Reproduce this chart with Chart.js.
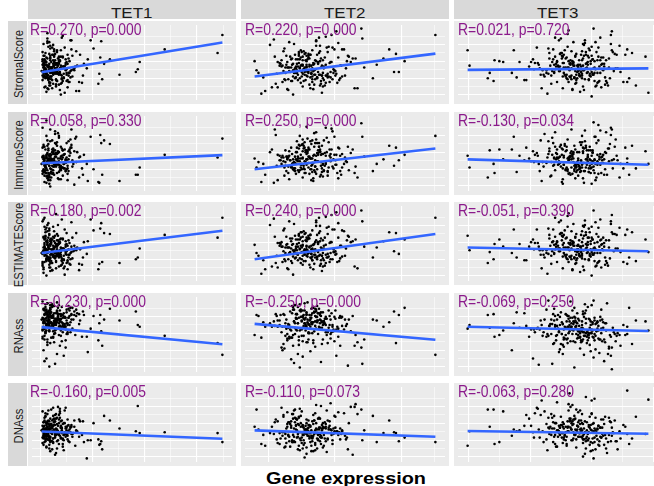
<!DOCTYPE html>
<html><head><meta charset="utf-8">
<script src="https://cdn.jsdelivr.net/npm/chart.js@4.4.1/dist/chart.umd.min.js"></script>
<style>
html,body{margin:0;padding:0;background:#fff;overflow:hidden;width:654px;height:486px;}
#wrap{position:relative;width:654px;height:486px;overflow:hidden;font-family:"Liberation Sans",Arial,sans-serif;}
.panel{position:absolute;width:208px;height:83px;background:#EBEBEB;}
.panel canvas{display:block;}
.cstrip{position:absolute;top:0;height:19px;width:208px;background:#D9D9D9;color:#1A1A1A;font-size:14.5px;text-align:center;line-height:19px;}
.cstrip span{position:relative;top:4px;display:inline-block;transform:scaleX(1.17);}
.rstrip{position:absolute;left:8px;width:19px;height:83px;background:#D9D9D9;}
.rstrip span{position:absolute;left:50%;top:52%;transform:translate(-50%,-50%) rotate(-90deg) scaleY(1.16);white-space:nowrap;font-size:11.2px;color:#1A1A1A;}
.rlab{position:absolute;color:#8B1A8B;font-size:16px;line-height:16px;white-space:nowrap;transform-origin:0 0;transform:scaleX(0.87);}
#xtitle{position:absolute;left:346px;top:471px;font-weight:bold;font-size:16px;line-height:16px;color:#000;white-space:nowrap;transform:translateX(-50%) scaleX(1.24);}
</style></head>
<body><div id="wrap"></div>
<script>
const genes = ["TET1","TET2","TET3"];
const scores = ["StromalScore","ImmuneScore","ESTIMATEScore","RNAss","DNAss"];
const rVals = [[0.270,0.220,0.021],[0.058,0.250,-0.130],[0.180,0.240,-0.051],[-0.230,-0.250,-0.069],[-0.160,-0.110,-0.063]];
const pVals = [[0.000,0.000,0.720],[0.330,0.000,0.034],[0.002,0.000,0.390],[0.000,0.000,0.250],[0.005,0.073,0.280]];
// fitted line values at the smallest and largest expression
const fitStart = [[3.07,2.6,3.33],[3.07,2.4,3.5],[3.1,2.4,3.7],[4.97,5.33,5.0],[3.37,3.5,3.43]];
const fitEnd   = [[6.37,5.13,3.5],[3.97,4.7,2.9],[5.57,5.2,3.3],[3.07,3.57,4.53],[2.57,2.8,3.13]];
// axis extents and tick positions (expression / score units)
const xMin = 0, xMax = 20.8, yMin = 0, yMax = 8.3;
const xTicksTET1 = [0.9,3.61,6.32,9.03,11.74,14.45,17.16,19.87];
const xTicksTET2 = [2.44,5.9,9.36,12.82,16.28,19.74];
const xTicksTET3 = [1.1,4.3,7.5,10.7,13.9,17.1,20.3];
const yTicks = [0.56,1.49,2.42,3.35,4.28,5.21,6.14,7.07];

const tet1Expr = [19.8,19.3,13.8,11.2,11.0,10.8,9.1,8.1,7.5,7.2,7.1,7.0,7.3,6.9,6.1,5.7,5.4,5.2,5.0,4.9,
1.0,1.3,1.5,1.2,1.8,2.1,1.4,1.6,2.4,1.9,1.2,1.7,2.2,2.8,1.3,1.5,2.0,2.6,1.1,1.8,
2.3,1.4,1.6,3.1,1.2,2.5,1.9,1.3,2.1,1.7,1.5,2.9,1.2,1.8,2.2,1.4,3.4,1.6,2.0,1.1,
2.7,1.3,1.9,2.4,1.5,1.2,3.0,1.7,2.3,1.4,1.8,2.6,1.1,2.0,1.6,3.6,1.3,2.2,1.5,1.9,
1.2,2.8,1.7,1.4,2.1,3.3,1.6,1.3,2.5,1.8,1.1,2.0,1.5,3.8,1.9,1.2,2.3,1.7,2.7,1.4,
1.6,2.1,1.3,4.1,1.8,1.5,2.4,1.2,2.0,3.2,1.7,1.4,2.9,1.9,1.1,2.2,1.6,1.3,4.4,1.8,
2.6,1.5,1.2,2.0,3.5,1.7,1.4,2.3,1.9,1.6,1.3,2.8,1.1,2.1,4.0,1.5,1.8,2.5,1.2,3.7,
1.7,1.4,2.2,1.6,4.6,1.9,1.3,2.4,3.0,1.5,
2.6,3.3,1.9,2.9,3.7,2.2,3.0,4.2,2.5,3.5,1.8,2.7,3.9,2.3,3.1,4.5,2.0,2.8,3.4,1.6,
3.6,2.4,3.2,4.0,2.1,2.9,3.8,1.7,2.6,3.3,4.3,2.2,3.0,3.6,1.9,2.5,4.7,3.1,2.7,3.5,
2.0,3.9,2.4,3.2,1.5,2.8,3.7,4.1,2.3,3.0,2.6,3.4,1.8,4.4,2.9,3.1,2.1,3.8,2.5,3.3,
5.3,2.7,3.6,2.2,4.0,1.6,3.0,2.8,3.5,2.4,3.9,2.0,3.2,4.6,2.6,3.7,1.9,2.9,3.4,5.8,
2.3,3.1,4.2,2.7,1.7,3.6,2.5,3.0,6.4,2.2,3.8,2.8,3.3,1.8,4.1,2.6,3.5,2.4,4.9,3.2];
const tet2Expr = [19.8,16.6,16.0,15.7,15.5,15.0,14.4,13.7,13.3,12.2,12.1,11.7,11.4,12.4,1.0,1.2,1.4,1.7,2.1,1.9,
6.2,7.5,4.8,8.9,5.6,7.0,3.9,6.6,9.4,5.1,7.8,6.0,4.4,8.2,6.9,10.3,5.4,7.3,3.2,6.4,
8.6,5.8,7.1,4.6,9.8,6.7,5.2,7.7,3.6,8.0,6.1,9.1,5.0,7.4,4.2,6.8,10.8,5.7,7.9,6.3,
4.9,8.4,3.0,7.2,5.5,9.6,6.5,4.0,8.1,7.6,5.3,6.0,11.2,4.5,7.0,8.7,5.9,3.4,6.6,9.0,
7.3,4.7,6.2,8.3,5.6,10.0,7.8,3.8,6.9,5.1,8.8,6.4,4.3,7.5,9.3,5.8,2.8,7.1,6.7,8.5,
4.1,5.4,10.6,6.3,7.9,5.0,9.7,6.1,3.3,7.4,8.0,5.7,6.8,4.6,11.5,7.2,5.2,8.6,6.5,3.7,
9.2,7.7,4.9,6.0,8.2,5.5,10.1,6.9,4.4,7.6,5.9,8.9,3.1,6.2,9.5,7.0,5.3,4.8,8.4,6.6,
7.3,10.4,5.6,2.6,8.1,6.4,4.2,9.9,7.8,5.1,
6.5,7.9,5.3,8.4,6.1,7.2,4.5,9.0,5.8,7.6,6.8,4.1,8.1,5.5,7.0,9.7,6.3,5.0,7.8,3.6,
8.6,6.0,7.3,4.8,9.3,6.6,5.7,8.0,4.3,7.1,6.4,10.5,5.2,7.7,6.9,3.9,8.3,5.9,7.4,6.2,
4.6,8.8,6.7,5.4,7.5,10.1,6.0,4.9,8.2,7.0,5.6,9.5,6.4,3.4,7.8,5.1,8.5,6.8,4.4,7.2,
9.1,5.8,6.5,8.0,4.0,7.4,6.1,11.0,5.3,7.9,6.6,4.7,8.7,5.9,7.1,9.9,6.3,5.0,8.4,6.9,
3.8,7.6,5.5,9.2,6.2,7.3,4.2,8.1,6.7,5.2,7.5,10.7,6.0,4.5,8.9,5.7,7.0,6.4,9.4,5.4];
const tet3Expr = [19.8,19.5,18.5,18.1,17.8,17.6,16.0,15.9,15.2,14.1,13.9,1.0,1.2,3.1,3.3,3.7,3.8,4.3,4.7,5.8,
12.4,10.8,13.6,9.5,14.2,11.7,15.3,12.9,8.6,13.1,11.2,14.7,10.1,12.6,16.0,9.0,13.8,11.9,7.4,12.2,
14.0,10.5,13.3,15.8,11.5,12.8,8.2,14.5,10.9,13.0,12.1,16.5,9.8,11.4,13.7,7.8,12.5,14.9,10.3,13.4,
11.8,6.9,12.7,15.1,9.3,14.3,11.1,13.9,10.6,12.0,17.2,8.8,13.2,11.6,14.8,10.0,12.3,15.6,9.6,13.5,
11.3,14.1,6.4,12.9,10.7,16.2,13.0,11.9,8.4,14.4,12.6,10.2,15.0,13.6,7.1,11.0,14.6,12.2,9.2,13.8,
16.8,11.7,10.4,12.8,14.0,8.0,13.1,11.5,15.4,9.9,12.4,14.3,10.8,5.6,13.3,11.2,16.4,12.0,9.4,14.9,
10.5,13.7,12.3,7.6,15.2,11.8,13.9,10.1,12.7,17.6,8.9,14.2,11.4,13.0,6.1,12.5,15.7,10.9,13.5,11.0,
14.5,9.7,12.1,16.1,10.3,13.4,8.5,14.8,12.9,11.6,
12.8,11.3,14.0,10.6,13.3,12.1,15.0,11.8,9.7,13.6,12.4,14.6,10.9,12.0,15.7,11.5,13.1,9.2,14.3,12.6,
11.0,13.8,12.3,16.3,10.4,13.0,11.7,14.8,9.9,12.9,13.5,11.2,15.3,12.5,10.1,14.1,11.9,13.4,8.7,12.2,
14.5,10.7,13.2,11.6,16.6,12.7,9.5,13.9,11.4,14.2,12.0,10.3,15.5,12.8,11.1,13.7,8.3,14.7,12.4,10.8,
13.0,15.9,11.8,12.6,10.0,14.4,13.3,11.5,9.8,12.1,14.9,11.3,13.6,10.5,12.9,16.9,11.9,13.1,10.2,14.0,
12.3,9.4,15.1,11.7,13.8,12.5,10.9,14.6,7.9,13.2,11.0,15.4,12.7,10.6,14.2,11.4,13.5,12.2,17.4,10.0];

const stromalTET1 = [7.2,5.2,5.6,4.2,3.4,3.1,2.8,4.5,4.0,6.5,4.7,2.9,2.3,1.8,6.6,3.5,4.0,1.9,5.0,1.0,
3.2,4.1,2.5,3.8,1.9,5.0,3.5,2.8,4.4,3.0,6.2,2.2,3.7,4.8,1.4,3.3,2.6,5.5,3.9,2.0,
4.2,3.1,7.4,2.7,3.6,1.7,4.6,3.4,5.8,2.4,3.9,1.1,4.0,3.2,2.9,5.2,3.7,6.8,2.3,4.3,
3.0,4.9,1.6,3.5,2.6,4.1,0.6,3.8,5.4,2.9,3.3,2.1,4.5,3.6,6.5,2.8,3.9,1.8,4.7,3.1,
2.5,4.0,5.9,3.4,2.2,3.7,1.3,4.4,3.0,5.1,2.7,3.5,4.2,2.0,6.0,3.2,4.8,2.4,3.8,1.5,
4.6,3.1,2.6,5.6,3.4,0.9,4.1,2.9,3.6,7.1,2.3,4.3,3.0,1.9,5.3,3.7,2.8,4.5,3.3,6.4,
2.1,3.9,4.9,2.6,3.5,1.2,4.2,3.1,5.7,2.5,3.8,4.7,2.2,3.4,6.6,2.9,4.0,1.7,3.6,5.0,
3.2,2.4,4.4,3.7,1.0,4.9,2.7,3.5,5.5,3.0,
3.6,2.9,4.4,3.1,2.2,5.0,3.8,2.6,4.1,3.3,1.6,4.6,3.0,5.6,2.4,3.7,4.2,2.8,3.5,6.3,
2.1,3.9,4.8,3.2,1.3,4.3,2.7,3.6,5.3,2.5,3.4,4.0,1.8,3.0,4.7,2.3,3.8,6.9,2.9,4.5,
3.1,2.0,5.1,3.7,2.6,4.2,1.4,3.3,4.9,2.8,3.9,5.8,2.4,3.5,4.4,1.9,3.0,4.6,2.2,3.7,
2.7,4.1,3.4,6.1,2.5,3.2,4.8,1.7,3.9,2.9,4.3,3.6,2.1,5.4,3.1,4.0,2.6,3.5,0.8,4.5,
3.8,2.3,4.9,3.3,2.7,4.2,1.5,3.6,5.7,2.8,3.0,4.4,2.4,3.7,6.6,2.9,4.1,3.2,2.0,4.7];
const stromalTET2 = [7.2,4.3,3.1,5.1,3.1,5.6,4.6,3.9,2.4,6.8,7.9,1.3,1.3,3.6,4.3,3.3,3.0,0.7,1.0,2.5,
3.6,2.4,4.5,3.1,5.3,2.0,3.8,4.9,2.7,3.3,6.0,1.5,4.2,3.5,2.9,5.6,3.0,4.4,1.8,3.9,
2.5,4.7,3.2,6.4,2.2,3.7,5.0,2.8,4.1,0.8,3.4,5.8,2.6,4.3,3.0,1.3,4.8,3.6,2.1,5.2,
3.9,2.7,6.7,3.3,4.5,1.9,3.1,5.4,2.4,4.0,3.7,2.9,4.6,1.1,3.5,5.9,2.6,4.2,3.2,7.2,
2.3,4.8,3.4,1.6,5.1,3.8,2.8,4.4,3.0,6.2,2.0,3.6,4.9,2.5,3.3,5.5,1.4,4.1,3.9,2.7,
5.7,3.1,4.3,2.2,3.6,0.6,4.7,3.4,2.9,6.5,3.8,2.4,5.0,3.2,4.6,1.7,3.5,5.3,2.6,4.0,
3.0,6.9,2.1,4.4,3.7,2.8,5.6,3.3,1.2,4.2,3.9,2.5,4.8,3.1,7.6,2.3,4.5,3.6,1.9,5.1,
3.4,2.7,4.1,6.1,3.0,4.9,2.2,3.8,5.4,3.2,
3.3,4.6,2.5,3.9,5.4,2.8,3.6,4.2,1.9,3.1,5.0,2.3,4.4,3.7,2.6,6.3,3.2,4.0,1.6,3.8,
2.9,4.8,3.4,2.1,5.6,3.0,4.5,2.7,3.9,1.2,4.3,3.5,2.4,5.2,3.8,2.0,4.7,3.1,6.6,2.8,
3.6,4.1,1.7,3.3,5.0,2.6,3.9,4.6,2.2,3.4,4.9,2.9,3.7,1.4,4.3,3.0,5.8,2.5,3.6,4.0,
2.3,3.8,4.5,2.7,3.2,6.0,2.1,4.2,3.5,1.8,4.7,3.1,2.6,5.3,3.9,2.4,4.4,3.3,7.0,2.9,
3.7,4.1,2.2,3.4,5.1,2.8,3.6,1.5,4.6,3.0,2.5,4.9,3.8,2.3,4.2,3.5,5.5,2.7,3.2,4.0];
const stromalTET3 = [0.8,4.8,1.6,5.2,2.4,2.0,7.6,7.2,4.0,7.9,0.4,5.5,3.8,2.4,3.0,2.1,4.4,4.3,4.2,5.5,
3.4,4.6,2.3,5.2,3.0,3.9,1.7,4.4,2.8,6.1,3.6,2.1,4.8,3.3,5.5,2.6,4.0,1.2,3.7,4.9,
2.9,6.6,3.5,2.4,4.3,3.1,5.8,1.9,4.1,3.8,2.5,5.0,3.2,7.3,2.7,4.5,3.6,1.4,4.2,3.0,
5.4,2.2,3.9,4.7,0.7,3.4,2.8,5.9,3.7,4.1,2.0,3.3,6.3,2.6,4.4,3.1,5.1,1.6,3.8,4.9,
2.4,3.5,4.2,2.9,6.8,3.2,4.6,1.1,3.9,5.3,2.7,4.0,3.4,5.7,2.2,3.6,4.8,1.8,3.0,4.3,
6.0,2.5,3.7,5.0,2.8,4.1,3.3,7.7,2.1,4.5,3.8,1.5,5.2,3.0,4.0,2.6,3.5,6.4,2.9,4.7,
3.2,5.5,1.9,4.2,3.7,2.3,4.9,3.4,0.9,5.6,2.8,4.3,3.6,6.2,2.5,3.9,4.6,1.3,3.1,5.0,
4.4,2.7,3.8,5.3,2.0,4.1,3.5,6.9,2.4,3.3,
3.7,2.8,4.5,3.2,5.3,2.4,4.0,3.5,1.8,4.7,3.1,5.8,2.6,4.2,3.6,2.0,4.9,3.3,6.4,2.9,
4.1,3.4,2.2,5.1,3.8,1.5,4.4,3.0,5.6,2.7,3.9,4.6,2.5,3.2,6.9,2.8,4.3,3.6,1.3,4.8,
3.0,5.2,2.3,4.0,3.5,2.6,4.6,3.1,5.9,2.1,3.8,4.3,1.9,3.4,5.5,2.9,4.1,3.7,2.4,4.9,
3.3,6.2,2.7,4.4,3.0,1.6,5.0,3.6,4.2,2.5,3.9,4.7,2.2,3.5,5.4,3.1,4.0,1.1,3.7,4.5,
2.8,5.7,3.3,4.1,2.6,3.8,4.8,2.0,3.4,6.6,3.0,4.4,2.7,5.1,3.6,2.3,4.2,3.2,5.0,3.9];
const immuneTET1 = [5.8,3.7,4.0,2.6,1.8,1.8,1.1,5.2,5.6,5.3,6.2,0.9,1.8,1.0,6.0,3.0,4.0,2.5,3.8,1.5,
3.0,2.2,4.0,3.5,1.6,4.6,2.7,3.3,5.3,2.0,3.8,1.2,4.3,2.9,3.6,6.1,2.4,3.1,4.8,1.8,
3.4,2.6,5.6,3.9,2.1,4.2,0.5,3.2,2.8,4.5,7.8,2.3,3.7,1.5,4.1,3.0,2.5,5.0,3.6,1.9,
4.4,2.8,3.3,6.6,2.0,3.9,1.3,4.7,3.1,2.6,3.5,5.4,2.2,4.0,1.7,3.2,2.9,4.6,0.9,3.8,
2.4,5.9,3.4,2.0,4.3,3.0,1.4,4.9,2.7,3.6,7.0,2.1,3.9,4.4,2.5,3.2,1.8,5.2,3.0,2.3,
4.1,3.5,1.0,4.8,2.8,3.7,6.3,2.2,3.3,4.5,1.6,3.0,2.6,5.5,3.8,2.0,4.2,3.4,0.7,4.0,
2.9,3.6,5.1,2.4,3.1,1.5,4.6,2.7,6.8,3.3,2.1,4.3,3.7,1.9,5.7,2.5,3.9,3.0,4.9,1.2,
3.5,2.8,4.4,2.3,6.0,3.2,1.7,4.1,2.6,3.8,
3.2,2.5,4.1,3.6,1.9,4.7,2.8,3.4,5.2,2.2,3.9,1.4,4.4,3.0,2.6,5.8,3.5,2.1,4.6,3.1,
2.4,3.8,1.7,4.2,3.3,2.7,5.5,3.6,2.0,4.0,3.0,2.3,4.9,3.7,1.2,3.2,4.3,2.6,6.4,3.4,
2.1,3.9,2.9,4.5,1.6,3.3,2.8,5.1,3.6,2.4,4.1,3.1,0.8,4.4,2.6,3.5,5.6,2.2,3.8,3.0,
1.8,4.2,3.4,2.7,4.8,3.0,2.3,6.1,3.5,2.9,4.6,1.5,3.7,3.2,5.0,2.5,3.9,2.8,4.1,1.1,
3.3,4.7,2.7,3.6,2.0,5.3,3.0,3.8,2.4,4.3,3.5,1.3,4.0,2.8,6.8,3.2,2.2,4.5,3.7,2.6];
const immuneTET2 = [6.1,4.0,3.4,4.8,2.8,5.0,3.5,3.0,2.2,6.0,7.5,1.5,2.0,3.8,3.6,2.6,3.2,1.0,1.8,3.0,
3.3,4.2,2.6,3.7,5.1,2.1,3.9,4.6,2.9,3.2,1.6,4.4,3.6,5.6,2.4,3.0,4.8,2.7,6.2,3.5,
2.2,4.0,3.1,1.3,4.7,3.8,2.5,5.3,3.4,4.1,2.8,6.6,3.0,1.9,4.5,3.6,2.3,5.0,3.2,4.3,
2.6,3.9,0.9,4.9,3.3,2.0,5.8,3.7,2.9,4.2,3.5,1.5,4.6,2.7,3.1,5.4,2.4,4.0,3.8,6.9,
2.1,3.4,4.8,2.8,3.6,1.8,4.4,3.0,5.2,2.5,3.9,4.1,2.2,3.3,6.0,2.9,4.6,1.1,3.7,4.3,
2.6,5.5,3.2,2.0,4.0,3.5,1.4,4.7,2.8,3.9,5.0,2.3,3.6,4.4,2.7,6.4,3.1,1.7,4.2,3.4,
2.5,4.9,3.0,5.7,2.2,3.8,4.1,1.2,3.5,4.5,2.9,3.3,6.8,2.4,4.0,3.6,1.9,4.8,3.1,2.6,
5.3,3.7,2.1,4.3,3.0,7.1,2.8,3.9,4.6,2.3,
3.5,2.8,4.3,3.0,5.0,2.3,3.7,4.6,2.6,3.3,5.5,1.7,4.1,3.6,2.9,4.8,3.2,2.4,4.4,3.9,
2.1,5.2,3.4,2.7,4.0,3.1,6.1,2.5,3.8,1.4,4.5,3.3,2.2,4.9,3.6,2.8,4.2,3.0,5.7,2.0,
3.9,4.6,1.9,3.4,5.3,2.6,3.7,4.1,2.3,3.1,4.7,2.9,3.5,1.2,4.3,3.2,5.9,2.4,3.8,4.0,
2.7,3.6,4.4,2.1,3.3,6.5,2.5,4.2,3.0,1.8,4.8,3.4,2.6,5.1,3.9,2.2,4.5,3.1,7.0,2.8,
3.7,4.0,2.3,3.5,5.4,2.7,3.2,1.6,4.6,3.8,2.4,4.9,3.6,2.0,4.1,3.3,5.6,2.9,3.4,4.3];
const immuneTET3 = [3.0,4.4,2.5,5.0,1.8,3.6,6.8,7.0,3.5,7.6,0.8,3.9,2.6,1.5,4.5,3.0,2.0,4.6,3.5,6.0,
3.2,4.0,2.5,4.7,3.5,1.8,4.3,2.9,5.6,3.1,2.3,3.8,4.9,2.7,3.4,6.3,2.0,4.1,3.6,1.4,
4.5,3.0,2.6,5.2,3.7,2.2,4.2,3.3,0.8,4.8,2.8,3.9,5.9,2.4,3.5,4.4,1.7,3.1,4.6,2.9,
6.8,3.4,2.1,4.0,3.7,1.2,5.0,2.6,3.8,4.3,2.5,3.2,5.5,2.0,4.1,3.6,2.8,4.7,1.6,3.3,
4.9,2.3,3.9,6.1,2.7,3.5,4.4,1.9,3.0,5.3,2.4,4.2,3.4,2.1,4.8,3.7,7.3,2.6,3.1,4.5,
1.5,3.8,2.9,5.1,3.3,4.0,2.2,3.6,6.5,2.8,4.3,3.0,1.0,4.6,3.5,2.4,5.7,3.2,4.1,2.0,
3.7,4.9,2.6,3.3,1.8,4.4,3.9,2.3,5.4,3.1,2.7,6.0,3.6,4.2,2.1,3.4,4.7,1.3,3.8,2.9,
4.0,3.2,5.0,2.5,3.7,4.5,2.2,6.7,3.0,3.5,
3.4,2.6,4.3,3.1,5.0,2.2,3.8,3.5,1.7,4.5,3.0,5.6,2.5,4.1,3.3,1.9,4.7,3.2,6.0,2.8,
3.9,3.4,2.1,4.9,3.6,1.4,4.2,2.9,5.3,2.6,3.7,4.4,2.4,3.0,6.5,2.7,4.0,3.5,1.1,4.6,
2.9,5.1,2.2,3.8,3.4,2.5,4.4,3.0,5.7,2.0,3.6,4.1,1.8,3.2,5.2,2.8,3.9,3.5,2.3,4.7,
3.1,6.2,2.6,4.3,2.9,1.5,4.8,3.4,4.0,2.4,3.7,4.5,2.1,3.3,5.4,3.0,3.8,0.9,3.5,4.2,
2.7,5.5,3.1,3.9,2.5,3.6,4.6,1.9,3.2,6.7,2.9,4.2,2.6,4.9,3.4,2.2,4.0,3.0,4.8,3.7];
const estimateTET1 = [7.0,4.8,5.1,3.6,2.6,2.4,2.0,5.2,5.3,6.4,5.8,1.9,2.1,1.3,6.8,3.0,4.3,1.8,3.5,1.2,
3.1,4.2,2.4,3.7,5.1,2.0,3.4,4.5,2.8,3.9,1.5,4.8,3.2,2.6,6.0,3.5,2.2,4.1,3.0,1.8,
4.4,3.6,5.5,2.5,3.3,7.4,2.9,4.0,1.2,3.8,2.3,4.6,3.1,5.8,2.7,3.5,1.6,4.3,3.0,2.1,
5.0,3.7,2.6,4.2,0.6,3.4,2.9,6.4,3.2,4.7,2.4,3.9,1.9,4.5,3.1,5.3,2.8,3.6,2.2,4.1,
6.8,3.0,2.5,4.9,3.4,1.4,4.0,3.7,2.7,5.6,3.2,2.0,4.4,3.5,1.1,4.8,2.6,3.9,6.2,2.9,
3.3,4.6,2.1,3.8,5.2,2.8,3.1,0.9,4.3,3.6,2.4,5.0,3.0,4.1,1.7,3.5,2.7,7.0,3.9,2.2,
4.5,3.2,1.3,4.7,3.0,2.5,5.4,3.6,2.0,4.2,3.8,2.8,6.6,3.3,1.8,4.4,2.6,3.1,4.9,2.3,
3.7,5.7,2.9,4.0,3.4,1.5,4.6,2.5,3.2,5.9,
3.5,2.8,4.4,3.0,2.1,4.9,3.7,2.5,4.0,3.2,1.5,4.5,2.9,5.5,2.3,3.6,4.1,2.7,3.4,6.2,
2.0,3.8,4.7,3.1,1.2,4.2,2.6,3.5,5.2,2.4,3.3,3.9,1.7,2.9,4.6,2.2,3.7,6.8,2.8,4.4,
3.0,1.9,5.0,3.6,2.5,4.1,1.3,3.2,4.8,2.7,3.8,5.7,2.3,3.4,4.3,1.8,2.9,4.5,2.1,3.6,
2.6,4.0,3.3,6.0,2.4,3.1,4.7,1.6,3.8,2.8,4.2,3.5,2.0,5.3,3.0,3.9,2.5,3.4,0.7,4.4,
3.7,2.2,4.8,3.2,2.6,4.1,1.4,3.5,5.6,2.7,2.9,4.3,2.3,3.6,6.5,2.8,4.0,3.1,1.9,4.6];
const estimateTET2 = [7.0,4.6,3.0,5.3,3.3,5.4,4.4,3.7,2.6,6.6,7.8,1.4,1.6,3.8,4.0,3.1,2.8,0.8,1.3,2.3,
3.5,2.7,4.4,3.1,5.2,2.3,3.8,4.7,2.9,3.3,6.1,1.8,4.1,3.6,2.5,5.5,3.0,4.3,2.0,3.9,
2.6,4.8,3.4,6.6,2.2,3.7,5.0,2.8,4.2,1.1,3.2,5.7,2.7,4.5,3.1,1.5,4.9,3.5,2.3,5.3,
4.0,2.9,6.9,3.3,4.6,2.1,3.0,5.6,2.5,4.1,3.8,2.8,4.4,1.3,3.6,6.0,2.4,4.2,3.1,7.3,
2.6,4.7,3.4,1.7,5.1,3.9,2.9,4.3,3.0,6.3,2.1,3.5,4.9,2.4,3.2,5.4,1.6,4.0,3.8,2.6,
5.8,3.0,4.5,2.2,3.7,0.7,4.8,3.3,2.8,6.5,3.6,2.5,5.1,3.1,4.6,1.9,3.4,5.2,2.7,4.1,
3.2,7.0,2.0,4.4,3.9,2.9,5.6,3.5,1.4,4.3,3.7,2.4,4.9,3.0,7.6,2.3,4.6,3.6,2.0,5.0,
3.3,2.8,4.2,6.2,3.1,4.8,2.2,3.9,5.5,3.0,
3.4,4.7,2.6,4.0,5.5,2.9,3.7,4.3,2.0,3.2,5.1,2.4,4.5,3.8,2.7,6.4,3.3,4.1,1.7,3.9,
3.0,4.9,3.5,2.2,5.7,3.1,4.6,2.8,4.0,1.3,4.4,3.6,2.5,5.3,3.9,2.1,4.8,3.2,6.7,2.9,
3.7,4.2,1.8,3.4,5.1,2.7,4.0,4.7,2.3,3.5,5.0,3.0,3.8,1.5,4.4,3.1,5.9,2.6,3.7,4.1,
2.4,3.9,4.6,2.8,3.3,6.1,2.2,4.3,3.6,1.9,4.8,3.2,2.7,5.4,4.0,2.5,4.5,3.4,7.1,3.0,
3.8,4.2,2.3,3.5,5.2,2.9,3.7,1.6,4.7,3.1,2.6,5.0,3.9,2.4,4.3,3.6,5.6,2.8,3.3,4.1];
const estimateTET3 = [3.2,4.6,2.2,5.4,2.6,1.9,7.3,6.6,4.2,7.8,0.6,5.0,3.4,2.0,3.2,2.4,4.1,4.6,3.8,5.7,
3.5,4.5,2.4,5.1,3.1,4.0,1.8,4.3,2.9,6.0,3.7,2.2,4.9,3.4,5.4,2.6,4.1,1.3,3.8,4.8,
3.0,6.5,3.6,2.5,4.2,3.2,5.7,2.0,4.0,3.9,2.6,5.1,3.3,7.2,2.8,4.6,3.5,1.5,4.3,3.1,
5.5,2.3,3.8,4.8,0.8,3.5,2.9,6.0,3.6,4.2,2.1,3.4,6.2,2.7,4.5,3.0,5.2,1.7,3.9,4.8,
2.5,3.6,4.1,3.0,6.7,3.3,4.7,1.2,3.8,5.2,2.8,4.1,3.5,5.8,2.3,3.7,4.9,1.9,3.1,4.4,
5.9,2.6,3.6,5.1,2.9,4.2,3.4,7.5,2.2,4.4,3.9,1.6,5.3,3.1,4.1,2.7,3.6,6.3,3.0,4.6,
3.3,5.4,2.0,4.3,3.8,2.4,4.8,3.5,1.0,5.7,2.9,4.2,3.7,6.1,2.6,4.0,4.5,1.4,3.2,5.1,
4.3,2.8,3.9,5.2,2.1,4.0,3.4,6.8,2.5,3.4,
3.8,2.9,4.6,3.3,5.4,2.5,4.1,3.6,1.9,4.8,3.2,5.9,2.7,4.3,3.7,2.1,5.0,3.4,6.5,3.0,
4.2,3.5,2.3,5.2,3.9,1.6,4.5,3.1,5.7,2.8,4.0,4.7,2.6,3.3,7.0,2.9,4.4,3.7,1.4,4.9,
3.1,5.3,2.4,4.1,3.6,2.7,4.7,3.2,6.0,2.2,3.9,4.4,2.0,3.5,5.6,3.0,4.2,3.8,2.5,5.0,
3.4,6.3,2.8,4.5,3.1,1.7,5.1,3.7,4.3,2.6,4.0,4.8,2.3,3.6,5.5,3.2,4.1,1.2,3.8,4.6,
2.9,5.8,3.4,4.2,2.7,3.9,4.9,2.1,3.5,6.7,3.1,4.5,2.8,5.2,3.7,2.4,4.3,3.3,5.1,4.0];
const rnaTET1 = [1.9,3.2,4.0,5.0,5.2,6.7,5.7,7.0,5.8,4.5,6.3,5.4,2.9,3.5,4.8,3.9,6.3,3.9,5.7,5.3,
5.8,6.4,4.9,7.0,5.3,6.1,4.4,6.7,5.6,7.4,5.0,6.2,3.8,5.9,6.8,4.6,5.4,7.7,6.0,5.1,
4.2,6.5,5.7,3.4,6.9,5.2,6.3,4.8,7.2,5.5,6.6,2.9,5.9,6.1,4.5,7.5,5.3,6.4,5.0,3.9,
6.2,5.6,7.1,4.7,6.0,2.4,5.8,6.7,5.2,4.3,6.4,5.5,7.8,6.1,4.9,5.7,3.6,6.3,5.1,6.9,
5.4,4.1,6.6,5.9,7.3,5.0,6.2,1.2,5.6,6.8,4.6,6.0,5.3,7.0,3.2,5.8,6.5,4.9,6.1,5.4,
7.6,5.2,4.0,6.3,5.7,6.9,0.9,5.5,6.2,4.4,5.9,7.2,5.1,6.6,3.7,6.0,5.3,4.8,6.7,5.8,
2.0,6.4,5.6,7.4,5.0,6.1,4.5,5.7,6.9,3.3,6.3,5.4,4.7,6.0,7.1,5.2,0.6,6.5,5.9,4.2,
5.6,6.8,5.1,3.0,6.2,5.5,7.0,4.6,6.4,1.5,
5.9,6.5,5.0,6.8,5.4,6.2,4.6,7.1,5.7,6.0,4.8,6.4,5.2,7.3,5.5,4.1,6.6,5.8,6.1,3.6,
6.9,5.3,6.3,4.4,7.5,5.6,6.0,5.1,6.7,4.9,5.8,3.9,6.2,5.4,7.0,4.7,6.5,5.0,6.1,2.7,
5.5,6.8,4.3,6.0,5.7,7.4,5.2,6.4,3.3,5.9,6.6,5.1,4.5,6.3,5.6,7.2,4.9,6.0,5.3,1.8,
6.7,5.8,4.2,6.1,5.5,7.6,5.0,6.4,4.7,5.9,6.2,3.8,5.4,6.9,5.7,4.4,6.5,5.1,6.0,2.2,
5.6,6.3,4.8,7.1,5.3,6.6,5.9,4.0,6.2,5.4,7.3,5.0,6.1,4.6,5.8,6.8,3.5,5.5,6.4,5.2];
const rnaTET2 = [1.9,7.1,6.3,3.2,6.7,5.5,5.0,5.7,5.8,0.9,2.7,3.3,2.9,3.6,4.1,6.3,6.2,3.8,5.0,5.5,
5.4,6.1,4.6,5.8,3.9,6.5,5.0,4.3,6.8,5.6,4.9,6.2,3.5,5.3,7.0,4.7,5.9,2.8,6.4,5.1,
4.4,6.7,5.5,3.7,6.0,5.2,7.4,4.8,5.7,3.1,6.3,5.0,4.1,6.9,5.4,2.3,5.8,4.6,6.6,5.3,
3.8,6.1,5.6,4.5,7.2,5.0,3.3,6.4,5.5,4.2,5.9,1.7,6.2,4.9,5.3,6.8,4.0,5.7,3.6,6.5,
5.1,4.7,7.6,5.4,3.0,6.0,5.8,4.4,6.3,1.0,5.2,6.6,4.8,5.5,3.4,6.1,5.0,7.1,4.3,5.9,
2.6,6.4,5.3,4.6,5.7,6.9,3.9,5.1,6.2,4.8,5.6,0.5,6.0,5.2,4.1,6.7,5.4,3.2,5.8,6.3,
4.5,5.0,7.3,4.9,5.6,2.0,6.1,5.3,4.2,6.5,5.7,3.7,5.1,6.8,4.7,5.5,6.0,1.4,5.2,4.4,
6.2,5.8,3.5,5.4,6.6,4.9,5.0,2.9,6.3,5.6,
5.5,6.2,4.7,5.9,4.0,6.6,5.1,4.4,6.9,5.7,5.0,6.3,3.6,5.4,7.1,4.8,6.0,2.9,6.5,5.2,
4.5,6.8,5.6,3.8,6.1,5.3,7.5,4.9,5.8,3.2,6.4,5.1,4.2,7.0,5.5,2.4,5.9,4.7,6.7,5.4,
3.9,6.2,5.7,4.6,7.3,5.1,3.4,6.5,5.6,4.3,6.0,1.8,6.3,5.0,5.4,6.9,4.1,5.8,3.7,6.6,
5.2,4.8,7.7,5.5,3.1,6.1,5.9,4.5,6.4,1.1,5.3,6.7,4.9,5.6,3.5,6.2,5.1,7.2,4.4,6.0,
2.7,6.5,5.4,4.7,5.8,7.0,4.0,5.2,6.3,4.9,5.7,0.7,6.1,5.3,4.2,6.8,5.5,3.3,5.9,6.4];
const rnaTET3 = [4.6,5.6,5.7,3.1,7.1,4.2,0.3,1.8,3.6,7.9,7.4,4.8,5.2,6.3,4.9,6.4,3.9,4.1,4.6,5.4,
4.7,5.5,3.8,5.1,4.2,6.0,3.3,4.9,5.7,4.0,6.4,3.6,5.2,4.5,2.7,5.8,4.3,6.8,3.9,5.0,
4.6,2.2,5.4,4.1,6.2,3.5,4.8,5.6,3.0,4.4,7.1,4.0,5.3,3.7,4.9,1.5,5.9,4.3,5.1,3.2,
4.7,6.5,3.9,5.5,4.2,2.5,5.0,4.6,6.1,3.4,5.2,4.0,7.5,4.5,3.6,5.7,4.8,2.0,5.3,4.1,
6.3,3.8,4.9,5.6,3.1,4.4,6.7,4.2,0.8,5.4,4.7,3.5,5.8,4.3,5.1,2.8,4.6,6.0,3.9,5.2,
4.1,7.8,4.8,3.3,5.5,4.4,1.9,5.0,4.6,6.4,3.7,5.3,4.2,2.4,5.9,4.9,3.4,5.6,4.0,6.9,
4.5,3.0,5.1,4.7,1.2,5.4,4.3,6.2,3.8,5.0,4.4,5.7,3.2,4.8,6.6,4.1,2.6,5.3,4.6,3.6,
5.5,4.2,0.5,4.9,5.8,3.9,4.7,6.1,3.4,5.2,
4.8,5.6,3.9,5.2,4.3,6.1,3.4,5.0,5.8,4.1,6.5,3.7,5.3,4.6,2.8,5.9,4.4,6.9,4.0,5.1,
4.7,2.3,5.5,4.2,6.3,3.6,4.9,5.7,3.1,4.5,7.2,4.1,5.4,3.8,5.0,1.6,6.0,4.4,5.2,3.3,
4.8,6.6,4.0,5.6,4.3,2.6,5.1,4.7,6.2,3.5,5.3,4.1,7.6,4.6,3.7,5.8,4.9,2.1,5.4,4.2,
6.4,3.9,5.0,5.7,3.2,4.5,6.8,4.3,0.9,5.5,4.8,3.6,5.9,4.4,5.2,2.9,4.7,6.1,4.0,5.3,
4.2,7.9,4.9,3.4,5.6,4.5,2.0,5.1,4.7,6.5,3.8,5.4,4.3,2.5,6.0,5.0,3.5,5.7,4.1,7.0];
const dnaTET1 = [2.2,3.2,3.3,3.2,6.2,3.4,3.7,4.6,5.1,2.3,2.0,1.9,1.4,2.5,2.4,0.4,2.2,3.0,4.5,2.8,
3.5,2.9,4.1,3.2,2.4,4.6,3.7,3.0,5.2,2.7,3.9,3.3,2.1,4.3,3.6,1.7,4.0,3.1,5.6,2.8,
3.4,4.4,2.5,3.8,3.0,4.8,2.2,3.5,1.4,4.2,3.1,5.9,2.6,3.7,4.0,2.9,3.3,4.5,2.3,3.6,
6.1,3.2,2.8,4.1,3.5,1.9,3.9,3.0,4.7,2.5,3.4,4.2,2.7,3.8,5.3,3.1,2.2,4.0,3.6,1.2,
4.4,3.3,2.9,5.0,3.7,2.4,3.9,4.6,3.0,2.6,3.5,4.1,1.6,3.2,4.8,2.8,3.6,5.7,3.1,2.3,
4.3,3.4,2.7,3.9,4.5,3.0,0.8,3.7,4.2,2.5,3.3,5.1,2.9,3.6,4.0,2.2,3.8,3.1,4.6,1.9,
3.5,2.6,4.4,3.2,6.0,2.8,3.7,4.1,2.4,3.4,4.9,3.0,2.1,3.8,3.3,4.3,1.5,3.6,2.9,4.7,
3.2,5.4,2.6,3.9,3.5,2.3,4.0,3.1,4.5,2.8,
3.6,3.0,4.2,3.3,2.5,4.7,3.8,3.1,5.3,2.8,4.0,3.4,2.2,4.4,3.7,1.8,4.1,3.2,5.7,2.9,
3.5,4.5,2.6,3.9,3.1,4.9,2.3,3.6,1.5,4.3,3.2,6.0,2.7,3.8,4.1,3.0,3.4,4.6,2.4,3.7,
5.8,3.3,2.9,4.2,3.6,2.0,4.0,3.1,4.8,2.6,3.5,4.3,2.8,3.9,5.4,3.2,2.3,4.1,3.7,1.3,
4.5,3.4,3.0,5.1,3.8,2.5,4.0,4.7,3.1,2.7,3.6,4.2,1.7,3.3,4.9,2.9,3.7,5.6,3.2,2.4,
4.4,3.5,2.8,4.0,4.6,3.1,1.0,3.8,4.3,2.6,3.4,5.2,3.0,3.7,4.1,2.3,3.9,3.2,4.7,2.0];
const dnaTET2 = [2.2,2.7,2.3,3.2,3.3,4.6,3.2,2.2,5.1,2.4,5.8,5.3,6.1,3.5,3.9,5.8,3.6,2.0,1.8,3.0,
3.2,2.6,4.0,3.6,1.8,4.5,2.9,3.4,5.0,2.3,3.8,1.5,4.2,3.0,2.7,5.4,3.5,2.1,4.7,3.1,
2.5,3.9,1.2,4.4,3.3,2.8,5.8,3.6,2.0,4.1,3.0,2.4,4.8,3.7,1.7,3.2,4.3,2.6,6.2,3.5,
2.2,3.9,3.1,4.6,1.4,3.4,2.9,5.2,3.7,2.5,4.0,3.3,0.8,4.4,2.7,3.6,5.6,2.1,3.8,3.0,
1.9,4.2,3.4,2.6,4.9,3.1,2.3,6.0,3.5,2.8,4.5,1.6,3.7,3.2,5.1,2.4,3.9,2.9,4.1,1.1,
3.3,4.7,2.7,3.6,2.0,5.3,3.0,3.8,2.5,4.3,3.5,1.3,4.0,2.8,6.4,3.2,2.2,4.6,3.7,2.6,
3.1,4.9,2.4,3.9,1.8,4.2,3.4,2.9,5.5,3.0,2.1,3.6,4.4,0.5,3.3,2.7,4.8,3.8,2.3,4.1,
3.5,2.9,5.0,3.2,1.6,4.3,2.6,3.7,3.1,5.7,
3.3,2.7,4.1,3.7,1.9,4.6,3.0,3.5,5.1,2.4,3.9,1.6,4.3,3.1,2.8,5.5,3.6,2.2,4.8,3.2,
2.6,4.0,1.3,4.5,3.4,2.9,5.9,3.7,2.1,4.2,3.1,2.5,4.9,3.8,1.8,3.3,4.4,2.7,6.3,3.6,
2.3,4.0,3.2,4.7,1.5,3.5,3.0,5.3,3.8,2.6,4.1,3.4,0.9,4.5,2.8,3.7,5.7,2.2,3.9,3.1,
2.0,4.3,3.5,2.7,5.0,3.2,2.4,6.1,3.6,2.9,4.6,1.7,3.8,3.3,5.2,2.5,4.0,3.0,4.2,1.2,
3.4,4.8,2.8,3.7,2.1,5.4,3.1,3.9,2.6,4.4,3.6,1.4,4.1,2.9,6.5,3.3,2.3,4.7,3.8,2.7];
const dnaTET3 = [6.9,3.1,5.0,2.6,2.0,7.9,3.8,2.3,4.2,0.4,6.8,1.8,3.4,5.8,3.9,5.8,2.0,2.2,5.6,3.6,
3.3,2.7,4.1,3.7,2.2,4.6,3.0,3.5,5.2,2.5,3.9,1.8,4.3,3.2,2.9,5.6,3.6,2.4,4.8,3.1,
2.6,4.0,1.5,4.5,3.4,2.8,6.0,3.7,2.1,4.2,3.1,2.3,4.9,3.8,1.9,3.3,4.4,2.7,6.6,3.5,
2.4,4.0,3.2,4.7,1.3,3.5,3.0,5.3,3.8,2.6,4.1,3.4,0.9,4.5,2.8,3.7,5.8,2.2,3.9,3.1,
2.0,4.3,3.5,2.7,5.0,3.2,2.5,6.3,3.6,2.9,4.6,1.7,3.8,3.3,5.2,2.5,4.0,3.0,4.2,1.2,
3.4,4.8,2.8,3.7,2.1,5.4,3.1,3.9,2.6,4.4,3.6,1.4,4.1,2.9,7.2,3.3,2.3,4.7,3.8,2.7,
3.2,5.0,2.5,4.0,1.9,4.3,3.5,3.0,5.7,3.1,2.2,3.7,4.5,0.6,3.4,2.8,4.9,3.9,2.4,4.2,
3.6,3.0,5.1,3.3,1.7,4.4,2.7,3.8,3.2,7.6,
3.4,2.8,4.2,3.8,2.3,4.7,3.1,3.6,5.3,2.6,4.0,1.9,4.4,3.3,3.0,5.7,3.7,2.5,4.9,3.2,
2.7,4.1,1.6,4.6,3.5,2.9,6.1,3.8,2.2,4.3,3.2,2.4,5.0,3.9,2.0,3.4,4.5,2.8,6.8,3.6,
2.5,4.1,3.3,4.8,1.4,3.6,3.1,5.4,3.9,2.7,4.2,3.5,1.0,4.6,2.9,3.8,5.9,2.3,4.0,3.2,
2.1,4.4,3.6,2.8,5.1,3.3,2.6,6.4,3.7,3.0,4.7,1.8,3.9,3.4,5.3,2.6,4.1,3.1,4.3,1.3,
3.5,4.9,2.9,3.8,2.2,5.5,3.2,4.0,2.7,4.5,3.7,1.5,4.2,3.0,7.0,3.4,2.4,4.8,3.9,2.8];

const exprByGene = [tet1Expr, tet2Expr, tet3Expr];
const xTicksByGene = [xTicksTET1, xTicksTET2, xTicksTET3];
const scoreTable = [
  [stromalTET1, stromalTET2, stromalTET3],
  [immuneTET1, immuneTET2, immuneTET3],
  [estimateTET1, estimateTET2, estimateTET3],
  [rnaTET1, rnaTET2, rnaTET3],
  [dnaTET1, dnaTET2, dnaTET3]
];

// layout
const colLeft = [28, 241, 454];
const labelOffset = [1.5, 4, 4.3];
const rowTop = [21, 112, 202, 293, 383];
const PW = 208, PH = 83;
const wrap = document.getElementById('wrap');

genes.forEach((g, c) => {
  const d = document.createElement('div');
  d.className = 'cstrip'; d.style.left = colLeft[c] + 'px';
  const sp = document.createElement('span'); sp.textContent = g; d.appendChild(sp);
  wrap.appendChild(d);
});
scores.forEach((s, r) => {
  const d = document.createElement('div');
  d.className = 'rstrip'; d.style.top = rowTop[r] + 'px';
  const sp = document.createElement('span'); sp.textContent = s; d.appendChild(sp);
  wrap.appendChild(d);
});
const xtl = document.createElement('div'); xtl.id = 'xtitle'; xtl.textContent = 'Gene expression'; wrap.appendChild(xtl);

function gridWidth(ctx) { return ctx.index % 2 === 0 ? 1.1 : 0.55; }

for (let r = 0; r < 5; r++) {
  for (let c = 0; c < 3; c++) {
    const p = document.createElement('div');
    p.className = 'panel';
    p.style.left = colLeft[c] + 'px'; p.style.top = rowTop[r] + 'px';
    const cv = document.createElement('canvas');
    cv.width = PW; cv.height = PH; cv.style.width = PW + 'px'; cv.style.height = PH + 'px';
    p.appendChild(cv); wrap.appendChild(p);
    const xs = exprByGene[c], ys = scoreTable[r][c];
    const n = Math.min(xs.length, ys.length);
    const pts = [];
    for (let i = 0; i < n; i++) pts.push({x: xs[i], y: ys[i]});
    const lo = Math.min(...xs), hi = Math.max(...xs);
    const xt = xTicksByGene[c];
    new Chart(cv.getContext('2d'), {
      type: 'scatter',
      data: { datasets: [
        { data: [{x: lo, y: fitStart[r][c]}, {x: hi, y: fitEnd[r][c]}], showLine: true,
          borderColor: '#3366FF', borderWidth: 2.6, pointRadius: 0, fill: false },
        { data: pts, pointRadius: 1.3, pointBackgroundColor: '#000', pointBorderWidth: 0, showLine: false }
      ]},
      options: {
        responsive: false, animation: false, events: [],
        layout: { padding: 0 },
        plugins: { legend: { display: false }, tooltip: { enabled: false } },
        scales: {
          x: { type: 'linear', min: xMin, max: xMax,
               afterBuildTicks: s => { s.ticks = xt.map(v => ({value: v})); },
               ticks: { display: false }, border: { display: false },
               grid: { color: '#FFFFFF', lineWidth: gridWidth, drawTicks: false } },
          y: { type: 'linear', min: yMin, max: yMax,
               afterBuildTicks: s => { s.ticks = yTicks.map(v => ({value: v})); },
               ticks: { display: false }, border: { display: false },
               grid: { color: '#FFFFFF', lineWidth: gridWidth, drawTicks: false } }
        }
      }
    });
    const lab = document.createElement('div');
    lab.className = 'rlab';
    lab.style.left = (colLeft[c] + labelOffset[c]) + 'px'; lab.style.top = (rowTop[r] + 1) + 'px';
    lab.textContent = 'R=' + rVals[r][c].toFixed(3) + ', p=' + pVals[r][c].toFixed(3);
    wrap.appendChild(lab);
  }
}
</script></body></html>
